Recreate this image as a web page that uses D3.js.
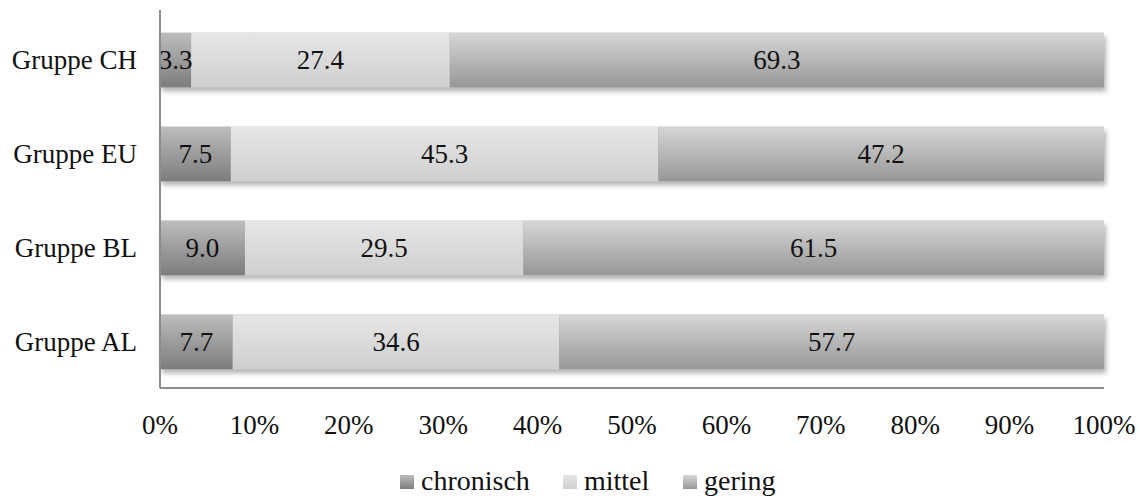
<!DOCTYPE html>
<html>
<head>
<meta charset="utf-8">
<script src="https://cdn.jsdelivr.net/npm/d3@7"></script>
<style>
  body { margin: 0; background: #fff; }
  text { font-family: "Liberation Serif", "DejaVu Serif", serif; fill: #111; }
</style>
</head>
<body>
<script>
// data
var groups = ["Gruppe CH", "Gruppe EU", "Gruppe BL", "Gruppe AL"];
var chronisch = [3.3, 7.5, 9.0, 7.7];
var mittel = [27.4, 45.3, 29.5, 34.6];
var gering = [69.3, 47.2, 61.5, 57.7];
var seriesNames = ["chronisch", "mittel", "gering"];
var ticks = [0, 10, 20, 30, 40, 50, 60, 70, 80, 90, 100];

var w = 1140, h = 498;
var mLeft = 160, mRight = 1104, mTop = 10, mBottom = 388;
var fs = "27px";

var svg = d3.select("body").append("svg").attr("width", w).attr("height", h);

var defs = svg.append("defs");
var grads = [
    ["g0", "#bdbdbd", "#7c7c7c"],
    ["g1", "#e6e6e6", "#cfcfcf"],
    ["g2", "#d6d6d6", "#979797"]
];
grads.forEach(function(g) {
    var lg = defs.append("linearGradient").attr("id", g[0])
        .attr("x1", 0).attr("y1", 0).attr("x2", 0).attr("y2", 1);
    lg.append("stop").attr("offset", "0%").attr("stop-color", g[1]);
    lg.append("stop").attr("offset", "100%").attr("stop-color", g[2]);
});
var f = defs.append("filter").attr("id", "shadow")
    .attr("x", "-5%").attr("y", "-20%").attr("width", "110%").attr("height", "160%");
f.append("feDropShadow").attr("dx", 2).attr("dy", 4).attr("stdDeviation", 2.5)
    .attr("flood-color", "#000").attr("flood-opacity", 0.3);

var x = d3.scaleLinear().domain([0, 100]).range([mLeft, mRight]);
var y = d3.scaleBand().domain(groups).range([mTop + 4, mBottom]).paddingInner(0.42).paddingOuter(0.2);

var rows = groups.map(function(g, i) {
    return { group: g, vals: [chronisch[i], mittel[i], gering[i]] };
});

var segs = [];
rows.forEach(function(r) {
    var acc = 0;
    r.vals.forEach(function(v, k) {
        segs.push({ group: r.group, k: k, x0: acc, x1: acc + v, v: v });
        acc += v;
    });
});

var barG = svg.append("g");
// shadow under each full bar
rows.forEach(function(r) {
    barG.append("rect")
        .attr("x", x(0)).attr("y", y(r.group))
        .attr("width", x(100) - x(0)).attr("height", y.bandwidth())
        .attr("fill", "#999").attr("filter", "url(#shadow)");
});

barG.selectAll("rect.seg").data(segs).enter().append("rect")
    .attr("class", "seg")
    .attr("x", function(d) { return x(d.x0); })
    .attr("y", function(d) { return y(d.group); })
    .attr("width", function(d) { return x(d.x1) - x(d.x0); })
    .attr("height", y.bandwidth())
    .attr("fill", function(d) { return "url(#g" + d.k + ")"; });

barG.selectAll("text.lbl").data(segs).enter().append("text")
    .attr("class", "lbl")
    .attr("x", function(d) { return (x(d.x0) + x(d.x1)) / 2; })
    .attr("y", function(d) { return y(d.group) + y.bandwidth() / 2; })
    .attr("dy", "0.35em")
    .attr("text-anchor", "middle")
    .style("font-size", fs)
    .text(function(d) { return d.v.toFixed(1); });

// axes
svg.append("line").attr("x1", mLeft).attr("x2", mLeft).attr("y1", mTop).attr("y2", mBottom)
    .attr("stroke", "#8c8c8c").attr("stroke-width", 2);
svg.append("line").attr("x1", mLeft).attr("x2", mRight).attr("y1", mBottom).attr("y2", mBottom)
    .attr("stroke", "#8c8c8c").attr("stroke-width", 2);

svg.selectAll("text.yl").data(groups).enter().append("text")
    .attr("class", "yl")
    .attr("x", 137)
    .attr("y", function(d) { return y(d) + y.bandwidth() / 2; })
    .attr("dy", "0.35em")
    .attr("text-anchor", "end")
    .style("font-size", fs)
    .text(function(d) { return d; });

svg.selectAll("text.xl").data(ticks).enter().append("text")
    .attr("class", "xl")
    .attr("x", function(d) { return x(d); })
    .attr("y", 425)
    .attr("dy", "0.35em")
    .attr("text-anchor", "middle")
    .style("font-size", fs)
    .text(function(d) { return d + "%"; });

// legend
var legX = [400, 563, 683];
var leg = svg.selectAll("g.leg").data(seriesNames).enter().append("g")
    .attr("class", "leg")
    .attr("transform", function(d, i) { return "translate(" + legX[i] + ",490)"; });
leg.append("rect").attr("x", 0).attr("y", -15).attr("width", 14).attr("height", 14)
    .attr("fill", function(d, i) { return "url(#g" + i + ")"; });
leg.append("text").attr("x", 21).attr("y", 0)
    .style("font-size", "28px")
    .text(function(d) { return d; });
</script>
</body>
</html>
